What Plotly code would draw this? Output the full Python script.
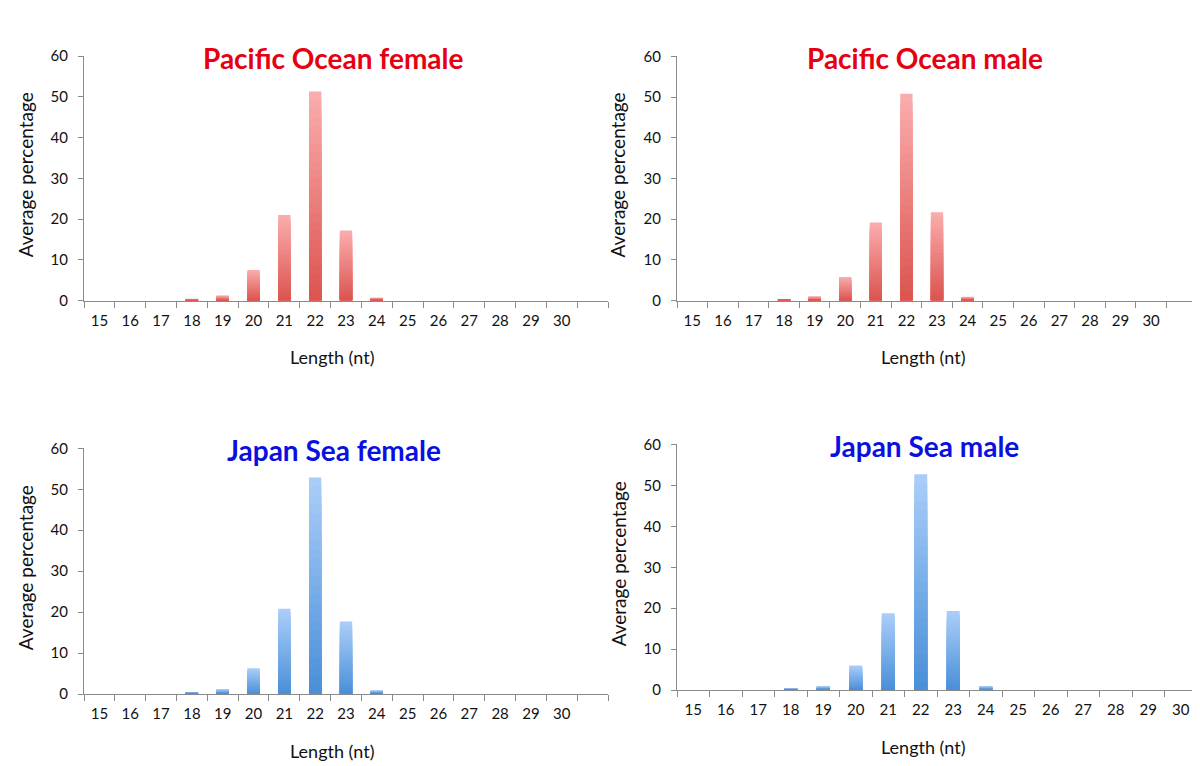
import plotly.graph_objects as go

# ---------------- data ----------------
lengths = ["15", "16", "17", "18", "19", "20", "21", "22", "23", "24",
           "25", "26", "27", "28", "29", "30"]

pacific_female = [0, 0, 0, 0.4, 1.2, 7.5, 21.0, 51.3, 17.2, 0.7, 0, 0, 0, 0, 0, 0]
pacific_male = [0, 0, 0, 0.3, 1.0, 5.8, 19.2, 50.8, 21.7, 0.9, 0, 0, 0, 0, 0, 0]
japan_female = [0, 0, 0, 0.4, 1.2, 6.3, 20.8, 52.9, 17.7, 0.9, 0, 0, 0, 0, 0, 0]
japan_male = [0, 0, 0, 0.3, 1.0, 6.0, 18.8, 52.7, 19.3, 1.0, 0, 0, 0, 0, 0, 0]

titles = ["Pacific Ocean female", "Pacific Ocean male", "Japan Sea female", "Japan Sea male"]
# ---------------------------------------

W, H = 1200, 766
FONT = "Lato"

RED_TOP, RED_BOT = (250, 172, 172), (220, 85, 80)
BLUE_TOP, BLUE_BOT = (170, 205, 248), (74, 144, 217)
TITLE_RED = "#e60012"
TITLE_BLUE = "#0a10e0"
AXIS_COL = "#8a8a8a"
TEXT_COL = "#111111"

# panel geometry in pixels: (x0, x1) and (y at 60, y at 0)
panels = [
    dict(vals=pacific_female, extra=True, px=(76, 600), py=(39, 289.3),
         top=RED_TOP, bot=RED_BOT, tcol=TITLE_RED),
    dict(vals=pacific_male, extra=True, px=(669, 1189), py=(39.3, 289.3),
         top=RED_TOP, bot=RED_BOT, tcol=TITLE_RED),
    dict(vals=japan_female, extra=True, px=(76, 600), py=(440.7, 692.3),
         top=BLUE_TOP, bot=BLUE_BOT, tcol=TITLE_BLUE),
    dict(vals=japan_male, extra=False, px=(669, 1189), py=(436.7, 688.3),
         top=BLUE_TOP, bot=BLUE_BOT, tcol=TITLE_BLUE),
]

NSTEP = 24

def mix(a, b, t):
    return "rgb(%d,%d,%d)" % tuple(round(a[i] + (b[i] - a[i]) * t) for i in range(3))

fig = go.Figure()
annotations = []
layout = {}

for i, p in enumerate(panels):
    n = i + 1
    xa = "x" if n == 1 else "x%d" % n
    ya = "y" if n == 1 else "y%d" % n
    xkey = "xaxis" if n == 1 else "xaxis%d" % n
    ykey = "yaxis" if n == 1 else "yaxis%d" % n

    cats = list(lengths) + ([" "] if p["extra"] else [])
    vals = list(p["vals"]) + ([None] if p["extra"] else [])

    # gradient: overlaid bars, lightest & tallest first, darker & shorter on top
    for k in range(NSTEP):
        frac = 1 - k / NSTEP
        ys = [None if v is None else v * frac for v in vals]
        fig.add_trace(go.Bar(
            x=cats, y=ys, xaxis=xa, yaxis=ya,
            marker=dict(color=mix(p["top"], p["bot"], k / (NSTEP - 1)), line=dict(width=0)),
            showlegend=False, hoverinfo="skip" if k else "x+y",
        ))

    x0, x1 = p["px"]
    ytop, ybot = p["py"]
    layout[xkey] = dict(
        domain=[x0 / W, x1 / W], anchor=ya, type="category",
        categoryorder="array", categoryarray=cats,
        showline=True, linecolor=AXIS_COL, linewidth=1,
        ticks="outside", tickson="boundaries", ticklen=6, tickcolor=AXIS_COL,
        showgrid=False, zeroline=False,
        tickfont=dict(family=FONT, size=15, color=TEXT_COL),
        ticklabelstandoff=6, fixedrange=True,
    )
    layout[ykey] = dict(
        domain=[1 - ybot / H, 1 - ytop / H], anchor=xa,
        range=[0, 60], tickvals=[0, 10, 20, 30, 40, 50, 60],
        showline=True, linecolor=AXIS_COL, linewidth=1,
        ticks="outside", ticklen=5, tickcolor=AXIS_COL,
        showgrid=False, zeroline=False,
        tickfont=dict(family=FONT, size=15, color=TEXT_COL),
        ticklabelstandoff=7, fixedrange=True,
    )

    cx = (x0 + x1) / 2
    # panel title
    annotations.append(dict(
        text="<b>%s</b>" % titles[i], x=(cx - 12.5) / W,
        y=1 - (ytop + 1.5) / H, xref="paper", yref="paper",
        xanchor="center", yanchor="middle", showarrow=False,
        font=dict(family=FONT, size=28, color=p["tcol"]),
    ))
    # x axis title
    annotations.append(dict(
        text="Length (nt)", x=(cx - 14) / W, y=1 - (ybot + 58) / H,
        xref="paper", yref="paper", xanchor="center", yanchor="middle",
        showarrow=False, font=dict(family=FONT, size=18, color=TEXT_COL),
    ))
    # y axis title
    annotations.append(dict(
        text="Average percentage", x=(x0 - 59) / W, y=1 - ((ytop + ybot) / 2 - 3) / H,
        xref="paper", yref="paper", xanchor="center", yanchor="middle",
        textangle=-90, showarrow=False,
        font=dict(family=FONT, size=19, color=TEXT_COL),
    ))

fig.update_layout(
    width=W, height=H, margin=dict(l=0, r=0, t=0, b=0),
    paper_bgcolor="white", plot_bgcolor="white",
    barmode="overlay", bargap=0.6,
    annotations=annotations, showlegend=False,
    **layout,
)

fig.write_html("out.html")
